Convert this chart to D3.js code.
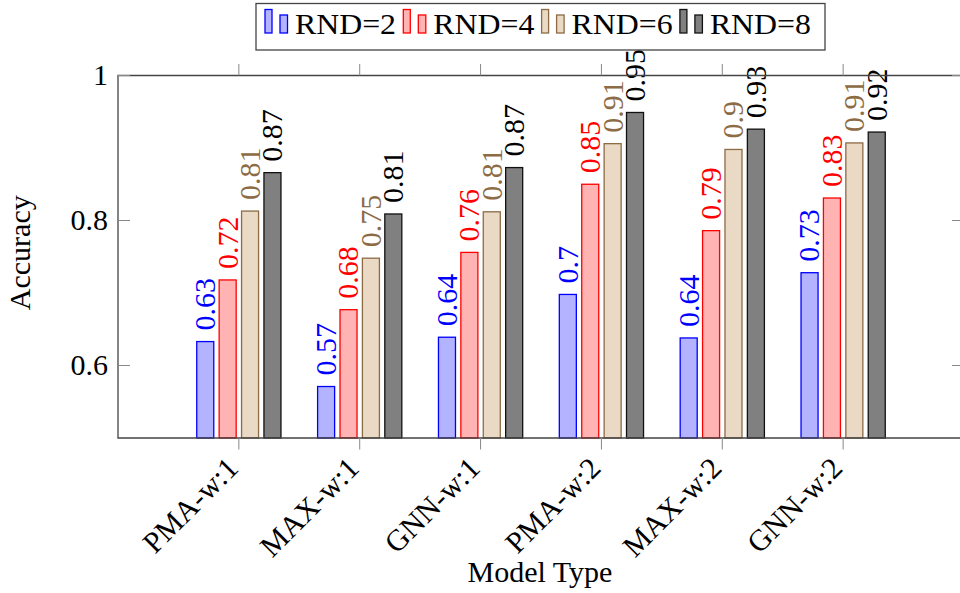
<!DOCTYPE html>
<html>
<head>
<meta charset="utf-8">
<script src="https://cdn.jsdelivr.net/npm/d3@7"></script>
<style>
  html, body { margin: 0; padding: 0; background: #fff; }
</style>
</head>
<body>
<svg id="chart" width="960" height="593"></svg>
<script>
// Model variants on the x axis
const categories = ["PMA-w:1", "MAX-w:1", "GNN-w:1", "PMA-w:2", "MAX-w:2", "GNN-w:2"];
// Series names (number of rounds)
const seriesNames = ["RND=2", "RND=4", "RND=6", "RND=8"];
// Accuracy per model for each series
const rnd2 = [0.633, 0.571, 0.639, 0.698, 0.638, 0.728];
const rnd4 = [0.718, 0.677, 0.756, 0.850, 0.786, 0.831];
const rnd6 = [0.813, 0.748, 0.812, 0.906, 0.898, 0.907];
const rnd8 = [0.866, 0.809, 0.873, 0.949, 0.926, 0.922];
// y axis ticks
const yTicks = [0.6, 0.8, 1];
const yTickLabels = ["0.6", "0.8", "1"];

const seriesValues = [rnd2, rnd4, rnd6, rnd8];
const styles = [
  { fill: "#b3b3ff", stroke: "#0000ff", text: "#0000ff" },
  { fill: "#ffb3b3", stroke: "#ff0000", text: "#ff0000" },
  { fill: "#e9d9c5", stroke: "#8c6b45", text: "#8c6b45" },
  { fill: "#808080", stroke: "#111111", text: "#000000" }
];

const FONT = "Liberation Serif";
const svg = d3.select("#chart");
const FS = 30;
const plotL = 118, plotR = 964, plotT = 75.5, plotB = 438;

function label(sel) {
  sel.attr("font-family", FONT).attr("font-size", FS);
}

// category index 1..6 inside a 0..7 axis range
const x = d3.scaleLinear().domain([0, categories.length + 1]).range([plotL, plotR]);
const y = d3.scaleLinear().domain([0.5, 1]).range([plotB, plotT]);
const offset = d3.scaleBand().domain(seriesNames).range([-44.8, 44.8])
  .paddingInner(0.24).paddingOuter(0.12);
const bw = offset.bandwidth();
const fmt = d3.format(".2~f");

// bars
const groups = svg.append("g").selectAll("g")
  .data(seriesNames)
  .join("g");

groups.each(function (name, si) {
  const st = styles[si];
  d3.select(this).selectAll("rect")
    .data(seriesValues[si])
    .join("rect")
    .attr("x", (d, i) => x(i + 1) + offset(name))
    .attr("y", d => y(d))
    .attr("width", bw)
    .attr("height", d => y(0.5) - y(d))
    .attr("fill", st.fill)
    .attr("stroke", st.stroke)
    .attr("stroke-width", 1.3);
});

// axis frame
svg.append("path")
  .attr("d", `M${plotL},${plotT}H${plotR}V${plotB}H${plotL}Z`)
  .attr("fill", "none")
  .attr("stroke", "#444")
  .attr("stroke-width", 1.3);

// x ticks (outside, top and bottom)
const xt = svg.append("g");
categories.forEach((c, i) => {
  const px = x(i + 1);
  xt.append("line").attr("x1", px).attr("x2", px).attr("y1", plotT).attr("y2", plotT - 11.5)
    .attr("stroke", "#888").attr("stroke-width", 1);
  xt.append("line").attr("x1", px).attr("x2", px).attr("y1", plotB).attr("y2", plotB + 11.5)
    .attr("stroke", "#888").attr("stroke-width", 1);
  xt.append("text")
    .call(label)
    .attr("transform", `translate(${px - 6},${463}) rotate(-45)`)
    .attr("text-anchor", "end")
    .attr("dy", "0.33em")
    .attr("fill", "#000")
    .text(c);
});

// y ticks (inside, left and right)
const yt = svg.append("g");
yTicks.forEach((t, i) => {
  const py = y(t);
  yt.append("line").attr("x1", plotL).attr("x2", plotL + 12).attr("y1", py).attr("y2", py)
    .attr("stroke", "#888").attr("stroke-width", 1);
  yt.append("line").attr("x1", plotR).attr("x2", plotR - 12).attr("y1", py).attr("y2", py)
    .attr("stroke", "#888").attr("stroke-width", 1);
  yt.append("text")
    .call(label)
    .attr("x", 108).attr("y", py)
    .attr("dy", "0.33em")
    .attr("text-anchor", "end")
    .text(yTickLabels[i]);
});

// value labels above bars
groups.each(function (name, si) {
  const st = styles[si];
  d3.select(this).selectAll("text")
    .data(seriesValues[si])
    .join("text")
    .call(label)
    .attr("transform", (d, i) => `translate(${x(i + 1) + offset(name) + bw / 2},${y(d) - 11}) rotate(-90)`)
    .attr("dy", "0.33em")
    .attr("text-anchor", "start")
    .attr("fill", st.text)
    .text(d => fmt(d));
});

// axis titles
svg.append("text")
  .call(label)
  .attr("x", (plotL + plotR) / 2 - 1).attr("y", 581.5)
  .attr("text-anchor", "middle")
  .text("Model Type");

svg.append("text")
  .call(label)
  .attr("transform", `translate(30,${(plotT + plotB) / 2 - 4}) rotate(-90)`)
  .attr("text-anchor", "middle")
  .text("Accuracy");

// legend
const lg = svg.append("g");
lg.append("rect")
  .attr("x", 256).attr("y", 3.5).attr("width", 569).attr("height", 46.5)
  .attr("fill", "#fff").attr("stroke", "#444").attr("stroke-width", 1.3);
seriesNames.forEach((name, i) => {
  const ex = 265 + i * 138.3;
  const st = styles[i];
  lg.append("rect").attr("x", ex).attr("y", 9.5).attr("width", 7).attr("height", 23.5)
    .attr("fill", st.fill).attr("stroke", st.stroke).attr("stroke-width", 1.3);
  lg.append("rect").attr("x", ex + 15).attr("y", 15).attr("width", 7.5).attr("height", 18)
    .attr("fill", st.fill).attr("stroke", st.stroke).attr("stroke-width", 1.3);
  lg.append("text")
    .call(label)
    .attr("x", ex + 30).attr("y", 33.5)
    .attr("textLength", 101)
    .attr("lengthAdjust", "spacingAndGlyphs")
    .text(name);
});
</script>
</body>
</html>
